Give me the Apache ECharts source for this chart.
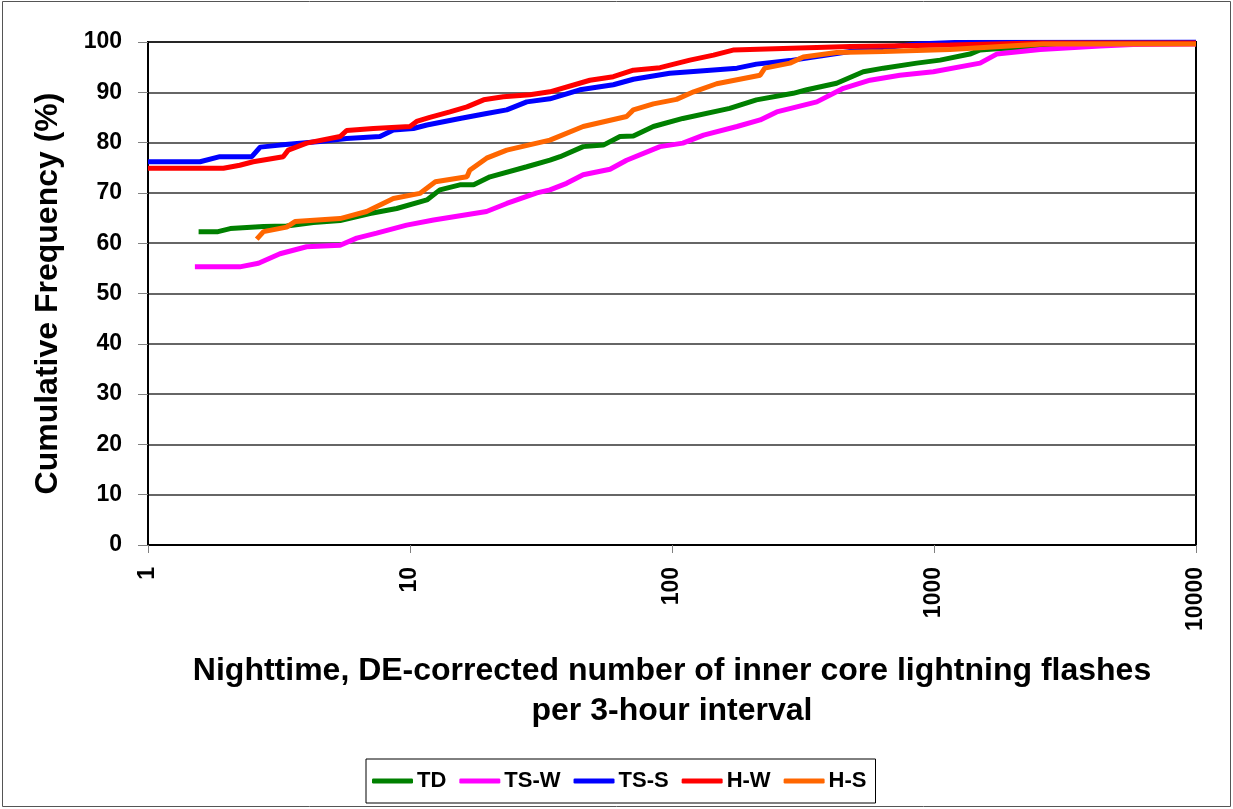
<!DOCTYPE html>
<html>
<head>
<meta charset="utf-8">
<script src="https://cdn.jsdelivr.net/npm/echarts@6/dist/echarts.min.js"></script>
<style>
  html, body { margin: 0; padding: 0; background: #fff; }
  #main { width: 1233px; height: 809px; }
</style>
</head>
<body>
<div id="main"></div>
<script>
// cumulative frequency curves, [flashes, percent]
var seriesNames = ['TD', 'TS-W', 'TS-S', 'H-W', 'H-S'];
var colors = ['#008000', '#ff00ff', '#0000ff', '#ff0000', '#ff6600'];

var tdData = [
    [1.56, 62.3], [1.85, 62.3], [2.06, 62.9], [2.76, 63.3], [3.38, 63.4], [4.28, 64.1],
    [5.41, 64.5], [7.03, 65.9], [8.9, 66.9], [11.6, 68.6], [13.0, 70.6], [15.5, 71.6],
    [17.5, 71.6], [20.2, 73.2], [27.9, 75.2], [34.2, 76.5], [37.4, 77.2], [45.8, 79.2],
    [54.7, 79.5], [63.3, 81.2], [71.2, 81.3], [84.9, 83.2], [110, 84.8], [166, 86.8],
    [210, 88.5], [290, 89.8], [327, 90.5], [425, 91.8], [537, 94.1], [641, 94.8],
    [859, 95.8], [1055, 96.4], [1371, 97.6], [1499, 98.4], [1786, 98.7], [3207, 99.1],
    [5000, 99.6]
];
var tswData = [
    [1.51, 55.3], [2.24, 55.3], [2.64, 56.0], [3.19, 57.9], [4.03, 59.3], [5.41, 59.6],
    [6.26, 61.0], [7.46, 62.0], [9.71, 63.6], [12.3, 64.6], [19.6, 66.3], [23.4, 67.9],
    [30.5, 70.0], [34.2, 70.6], [39.6, 71.9], [45.8, 73.6], [58, 74.7], [67.1, 76.5],
    [90, 79.2], [110, 79.9], [132, 81.5], [177, 83.2], [217, 84.5], [251, 86.1],
    [357, 88.1], [451, 90.8], [570, 92.4], [741, 93.4], [994, 94.1], [1499, 95.8],
    [1735, 97.6], [2541, 98.5], [4305, 99.2], [5754, 99.5], [10000, 99.6]
];
var tssData = [
    [1, 76.2], [1.58, 76.2], [1.88, 77.2], [2.49, 77.2], [2.68, 79.1], [3.19, 79.5],
    [4.53, 80.2], [5.73, 80.8], [7.68, 81.2], [8.64, 82.5], [10.3, 82.8], [11.6, 83.5],
    [15.5, 84.8], [19.6, 85.8], [23.4, 86.5], [27.9, 88.1], [34.2, 88.7], [44.5, 90.5],
    [59.7, 91.5], [71.2, 92.6], [98, 93.8], [132, 94.3], [177, 94.8], [210, 95.6],
    [282, 96.3], [357, 97.1], [478, 98.1], [859, 99.6], [1200, 99.9], [10000, 100]
];
var hwData = [
    [1, 74.9], [1.94, 74.9], [2.24, 75.5], [2.52, 76.2], [3.28, 77.2], [3.43, 78.5],
    [4.03, 79.9], [5.41, 81.2], [5.73, 82.4], [7.25, 82.8], [10, 83.2], [10.6, 84.2],
    [11.9, 85.0], [14.2, 86.1], [16.5, 87.1], [19.1, 88.5], [22.7, 89.1], [28.7, 89.5],
    [34.2, 90.1], [48.6, 92.4], [59.7, 93.1], [71.2, 94.4], [90, 94.9], [117, 96.4],
    [144, 97.4], [171, 98.4], [266, 98.7], [478, 99.1], [1151, 99.4], [2500, 99.8],
    [10000, 99.8]
];
var hsData = [
    [2.6, 60.8], [2.76, 62.3], [3.38, 63.2], [3.64, 64.3], [5.41, 64.9], [6.83, 66.3],
    [8.64, 68.9], [10.9, 69.9], [12.5, 72.2], [16.5, 73.2], [16.9, 74.5], [19.6, 76.9],
    [23.4, 78.5], [30.5, 79.9], [34.2, 80.5], [45.8, 83.2], [67.1, 85.2], [71.2, 86.5],
    [84.9, 87.7], [104, 88.6], [121, 90.1], [148, 91.7], [217, 93.4], [226, 94.8],
    [282, 95.8], [317, 97.0], [425, 97.9], [641, 98.1], [1151, 98.5], [2606, 99.6],
    [10000, 99.6]
];
var allData = [tdData, tswData, tssData, hwData, hsData];

var xTitle = 'Nighttime, DE-corrected number of inner core lightning flashes\nper 3-hour interval';
var yTitle = 'Cumulative Frequency (%)';

var font = 'Liberation Sans, Arial, sans-serif';
var chart = echarts.init(document.getElementById('main'));

var series = seriesNames.map(function(n, i) {
    return {
        name: n,
        type: 'line',
        data: allData[i],
        symbol: 'none',
        color: colors[i],
        lineStyle: { width: 5, color: colors[i] },
        z: 3 + i
    };
});

chart.setOption({
    backgroundColor: '#fff',
    animation: false,
    textStyle: { fontFamily: font },
    graphic: [{
        type: 'rect',
        shape: { x: 2.5, y: 1.5, width: 1228, height: 805 },
        style: { fill: 'none', stroke: '#555', lineWidth: 1 },
        silent: true
    }],
    grid: {
        left: 148, right: 37, top: 42, bottom: 264,
        show: true, borderColor: '#000', borderWidth: 2
    },
    legend: {
        data: seriesNames,
        left: 366, top: 759,
        padding: [11, 9, 11, 6],
        itemGap: 13,
        itemWidth: 41,
        itemHeight: 5,
        icon: 'roundRect',
        borderColor: '#000',
        borderWidth: 1,
        textStyle: { fontFamily: font, fontSize: 22, fontWeight: 'bold', color: '#000', padding: [0, 0, 0, -1] }
    },
    xAxis: {
        type: 'log',
        logBase: 10,
        min: 1,
        max: 10000,
        name: xTitle,
        nameLocation: 'middle',
        nameGap: 106,
        nameTextStyle: { fontFamily: font, fontSize: 32, fontWeight: 'bold', color: '#000', lineHeight: 40 },
        axisLine: { lineStyle: { color: '#000', width: 2 } },
        axisTick: { show: true, length: 8, lineStyle: { color: '#808080', width: 1 } },
        minorTick: { show: false },
        splitLine: { show: false },
        axisLabel: {
            rotate: 90, margin: 22,
            fontFamily: font, fontSize: 23, fontWeight: 'bold', color: '#000',
            formatter: function(v) { return String(Math.round(v)); }
        }
    },
    yAxis: {
        type: 'value',
        min: 0, max: 100, interval: 10,
        name: yTitle,
        nameLocation: 'middle',
        nameGap: 84,
        nameRotate: 90,
        nameTextStyle: { fontFamily: font, fontSize: 32, fontWeight: 'bold', color: '#000' },
        axisLine: { show: true, lineStyle: { color: '#000', width: 2 } },
        axisTick: { show: true, length: 10, lineStyle: { color: '#808080', width: 1 } },
        splitLine: { show: true, lineStyle: { color: '#333', width: 1.5 } },
        axisLabel: {
            margin: 26,
            fontFamily: font, fontSize: 23, fontWeight: 'bold', color: '#000'
        }
    },
    series: series
});
</script>
</body>
</html>
